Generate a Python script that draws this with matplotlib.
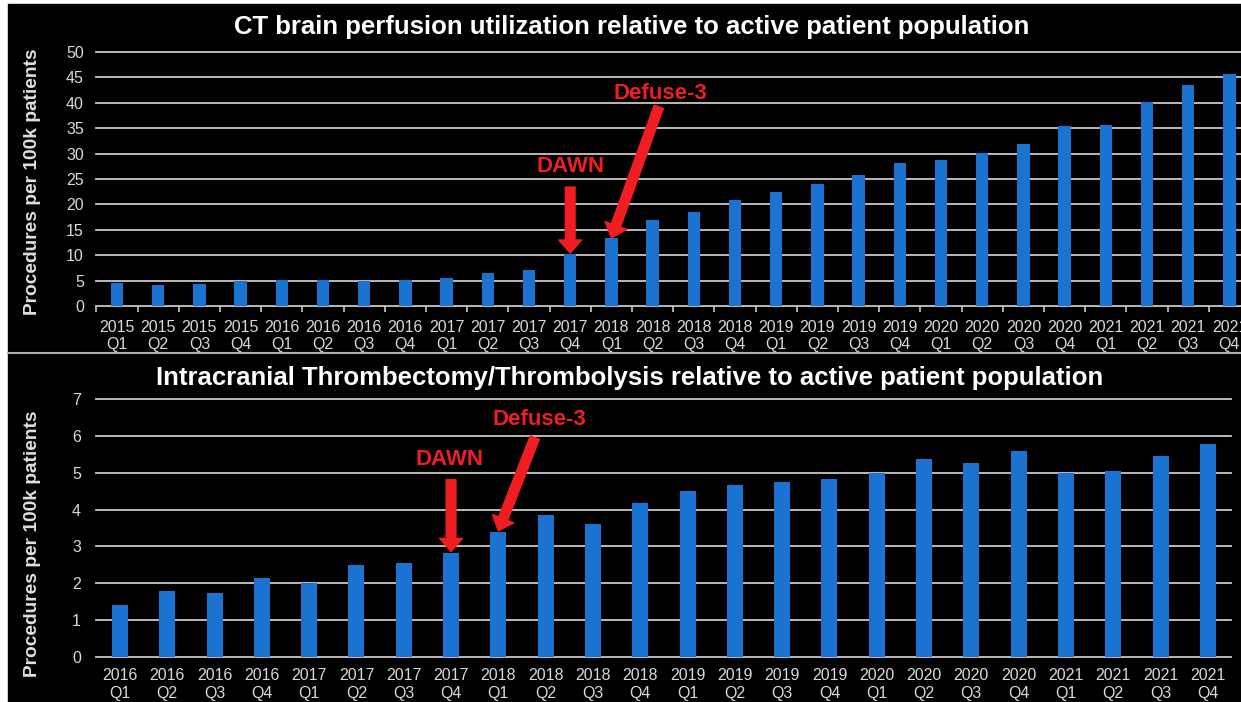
import numpy as np
import matplotlib
matplotlib.use("Agg")
import matplotlib.pyplot as plt
from matplotlib.patches import Rectangle
from matplotlib.lines import Line2D

plt.rcParams["font.family"] = ["Liberation Sans", "DejaVu Sans"]

# --- data -------------------------------------------------------------
ct_years = ["2015"] * 4 + ["2016"] * 4 + ["2017"] * 4 + ["2018"] * 4 + ["2019"] * 4 + ["2020"] * 4 + ["2021"] * 4
ct_quarters = ["Q1", "Q2", "Q3", "Q4"] * 7
ct_values = [4.5, 4.1, 4.3, 5.0, 5.1, 5.2, 4.9, 5.1,
             5.6, 6.4, 7.1, 10.2, 13.3, 16.9, 18.5, 20.9,
             22.4, 24.0, 25.8, 28.2, 28.7, 30.2, 31.9, 35.4,
             35.7, 40.2, 43.5, 45.7]

it_years = ["2016"] * 4 + ["2017"] * 4 + ["2018"] * 4 + ["2019"] * 4 + ["2020"] * 4 + ["2021"] * 4
it_quarters = ["Q1", "Q2", "Q3", "Q4"] * 6
it_values = [1.41, 1.80, 1.73, 2.14, 2.00, 2.50, 2.56, 2.82,
             3.38, 3.84, 3.61, 4.19, 4.51, 4.67, 4.76, 4.83,
             4.99, 5.38, 5.26, 5.60, 4.99, 5.04, 5.46, 5.79]

ct_title = "CT brain perfusion utilization relative to active patient population"
it_title = "Intracranial Thrombectomy/Thrombolysis relative to active patient population"
ylabel = "Procedures per 100k patients"

W, H = 1241, 702
BAR = "#1a73d0"
RED = "#f01e23"
GRID = "#c8c8c8"
TXT = "#d9d9d9"

fig = plt.figure(figsize=(W / 100, H / 100), dpi=100, facecolor="white")
fig.patches.append(Rectangle((8 / W, 0), 1, 1 - 4 / H, transform=fig.transFigure,
                             color="black", zorder=-5))
fig.add_artist(Line2D([8 / W, 1], [1 - 352.5 / H] * 2, color="#b0b0b0", lw=1.5))


def px_axes(left, top, right, bottom):
    return fig.add_axes([left / W, 1 - bottom / H, (right - left) / W, (bottom - top) / H])


def style(ax, n, ymax, step, ticks_minor):
    ax.set_facecolor("none")
    ax.set_xlim(-0.5, n - 0.5)
    ax.set_ylim(0, ymax)
    ax.set_yticks(np.arange(0, ymax + step / 2, step))
    for s in ax.spines.values():
        s.set_visible(False)
    ax.yaxis.grid(True, color=GRID, lw=1.3)
    ax.set_axisbelow(True)
    for gl in ax.get_ygridlines():
        gl.set_clip_on(False)
    ax.tick_params(axis="y", length=0, pad=9, labelcolor=TXT, labelsize=11.5)
    ax.tick_params(axis="x", which="major", length=0, labelcolor=TXT, labelsize=11.5)
    if ticks_minor:
        ax.set_xticks(np.arange(-0.5, n, 1), minor=True)
        ax.tick_params(axis="x", which="minor", length=4, color=GRID, width=1.2)


def arrow(ax, tip, tail):
    ax.annotate("", xy=tip, xytext=tail,
                arrowprops=dict(arrowstyle="simple,head_length=9.5,head_width=16.5,tail_width=7",
                                mutation_scale=1, color=RED, shrinkA=0, shrinkB=0))


# --- top panel --------------------------------------------------------
ax1 = px_axes(96.4, 52, 96.4 + 28 * 41.2, 306)
x1 = np.arange(len(ct_values))
ax1.bar(x1, ct_values, width=0.3, color=BAR, zorder=3)
style(ax1, len(ct_values), 50, 5, True)
ax1.set_xticks(x1)
ax1.set_xticklabels([f"{y}\n{q}" for y, q in zip(ct_years, ct_quarters)])
ax1.tick_params(axis="x", which="major", pad=10)
ax1.text(11, 27.4, "DAWN", color=RED, fontsize=16, fontweight="bold", ha="center", va="center")
arrow(ax1, (11, 10.4), (11, 23.4))
ax1.text(13.2, 41.9, "Defuse-3", color=RED, fontsize=16, fontweight="bold", ha="center", va="center")
arrow(ax1, (12, 13.4), (13.15, 39.2))

fig.text(632 / W, 1 - 27 / H, ct_title, ha="center", va="center",
         fontsize=18.5, fontweight="bold", color="white")
fig.text(33 / W, 1 - 182 / H, ylabel, ha="center", va="center", rotation=90,
         fontsize=13.8, fontweight="bold", color="#e0e0e0")

# --- bottom panel -----------------------------------------------------
ax2 = px_axes(96.3, 399, 96.3 + 24 * 47.3, 657)
x2 = np.arange(len(it_values))
ax2.bar(x2, it_values, width=0.34, color=BAR, zorder=3)
style(ax2, len(it_values), 7, 1, False)
ax2.set_xticks(x2)
ax2.set_xticklabels([f"{y}\n{q}" for y, q in zip(it_years, it_quarters)])
ax2.tick_params(axis="x", which="major", pad=8)
ax2.tick_params(axis="y", pad=11)
ax2.text(6.96, 5.35, "DAWN", color=RED, fontsize=16, fontweight="bold", ha="center", va="center")
arrow(ax2, (7, 2.86), (7, 4.81))
ax2.text(8.86, 6.44, "Defuse-3", color=RED, fontsize=16, fontweight="bold", ha="center", va="center")
arrow(ax2, (8, 3.42), (8.77, 5.95))

fig.text(630 / W, 1 - 378 / H, it_title, ha="center", va="center",
         fontsize=18.5, fontweight="bold", color="white")
fig.text(33 / W, 1 - 544 / H, ylabel, ha="center", va="center", rotation=90,
         fontsize=13.8, fontweight="bold", color="#e0e0e0")

fig.savefig("out.png", dpi=100, facecolor="white")
